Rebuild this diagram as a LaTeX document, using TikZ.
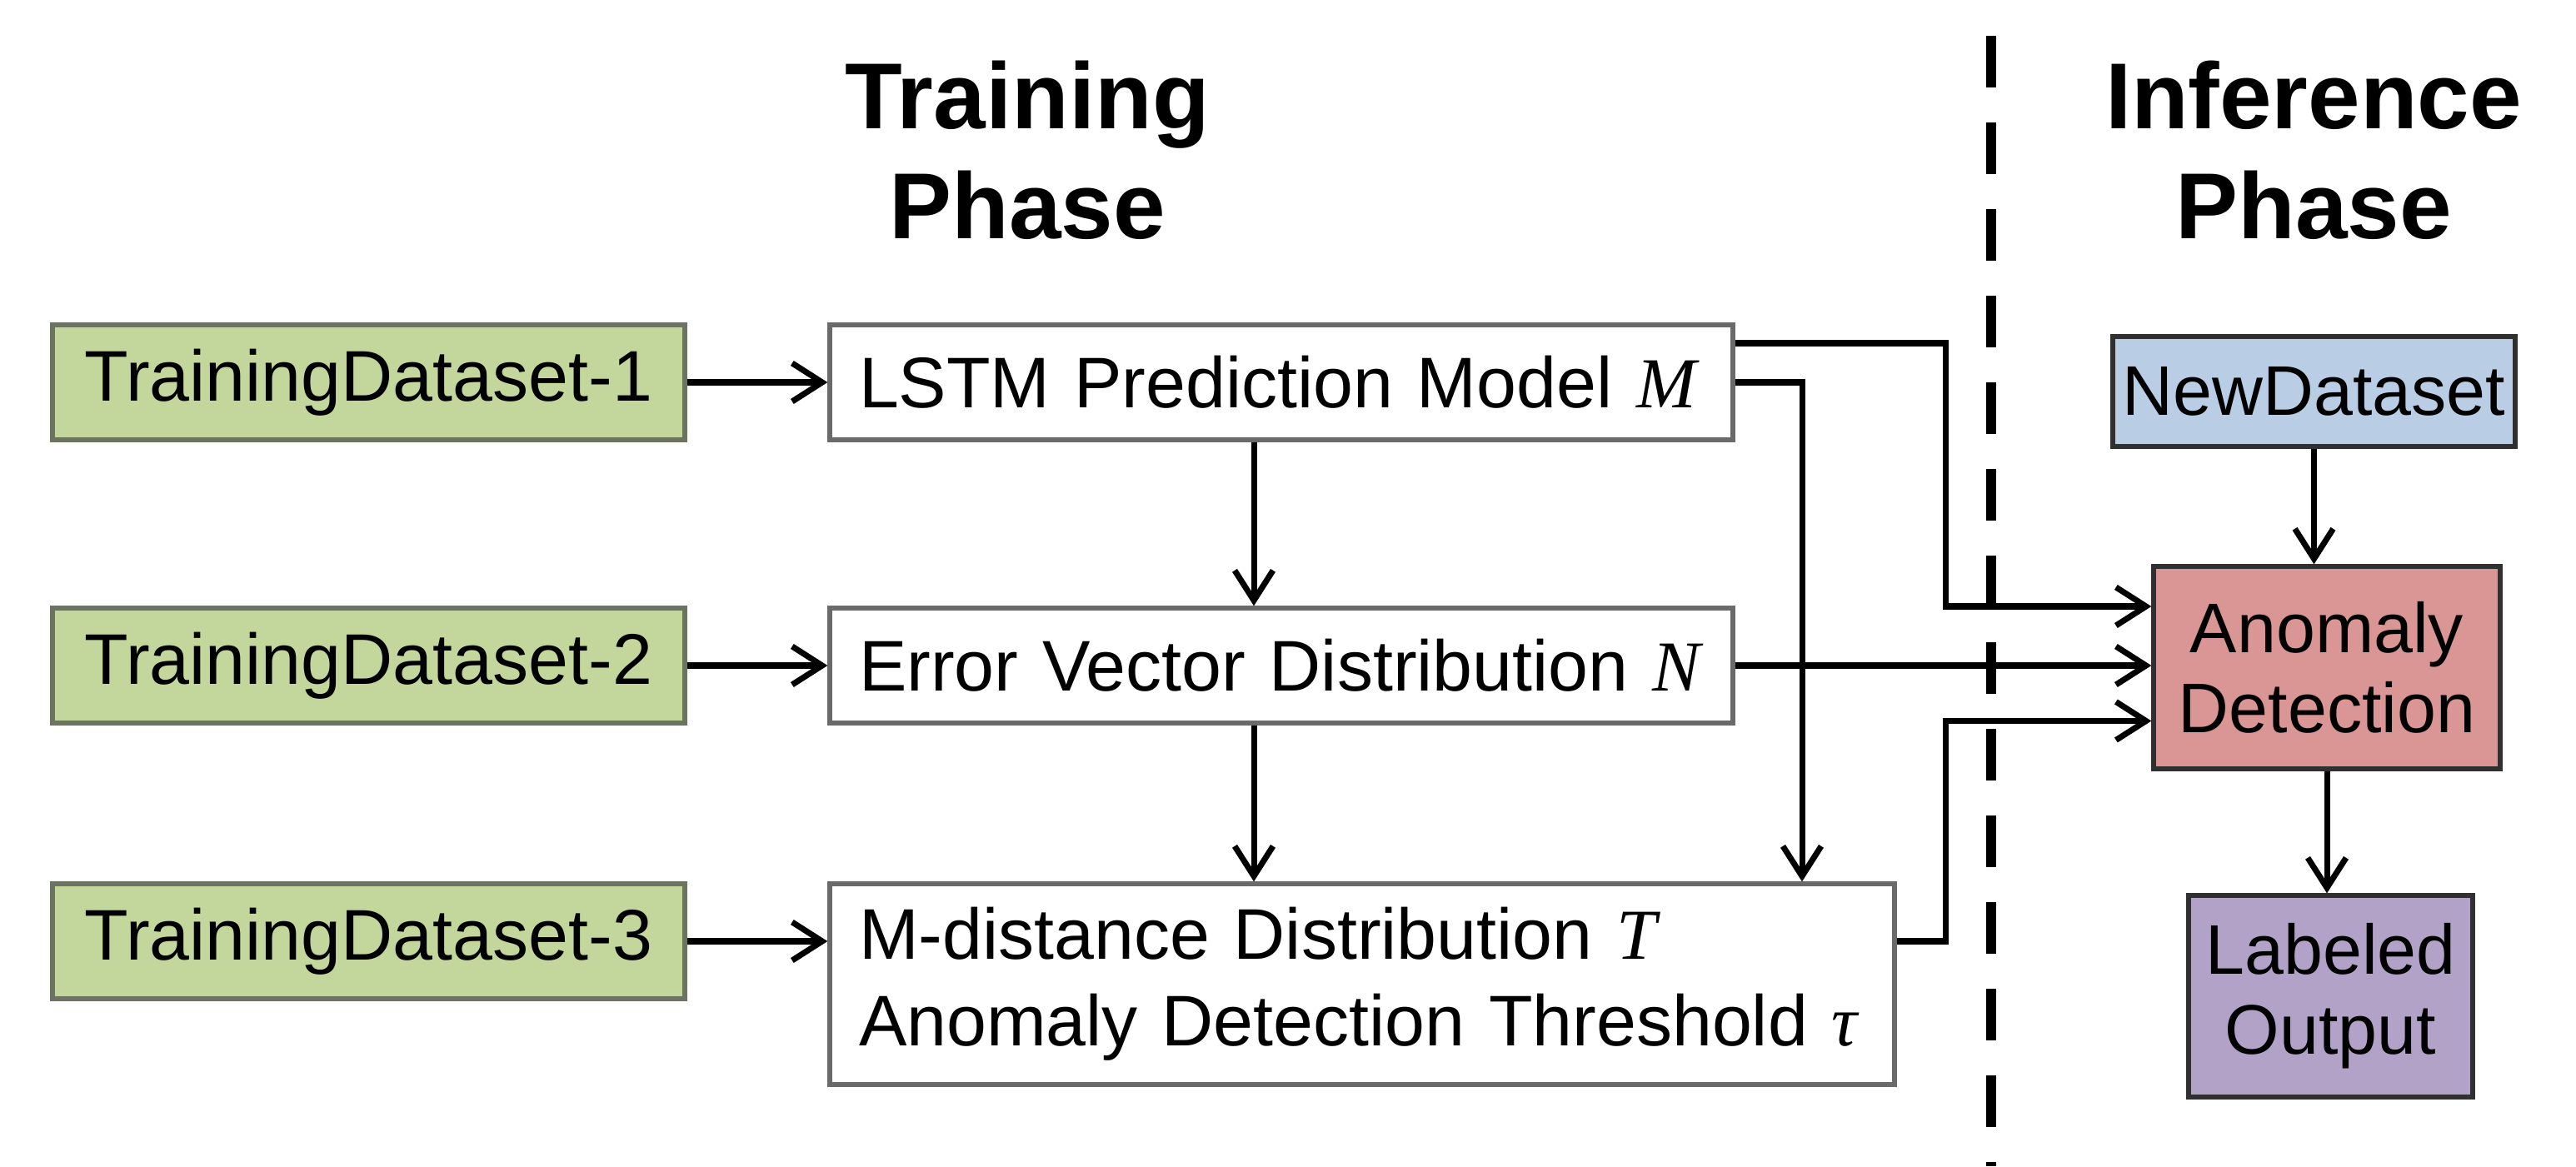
\documentclass[tikz,border=0pt]{standalone}
\usepackage{fontspec}
\setmainfont{Liberation Sans}
\newfontfamily\serifitfam{Liberation Serif}
\newcommand{\varitalic}[1]{{\serifitfam\itshape #1}}
\usetikzlibrary{arrows.meta,calc}
\definecolor{greenfill}{HTML}{C3D69B}
\definecolor{greenline}{HTML}{6C7360}
\definecolor{whiteline}{HTML}{6A6A6A}
\definecolor{bluefill}{HTML}{B9CDE5}
\definecolor{redfill}{HTML}{D99694}
\definecolor{purplefill}{HTML}{B3A2C7}
\definecolor{darkline}{HTML}{303030}
\tikzset{
  boxtext/.style={font=\fontsize{24.5}{29}\selectfont},
  greenbox/.style={boxtext, draw=greenline, fill=greenfill, line width=1.5pt,
    minimum width=7.59cm, minimum height=1.38cm, inner sep=0pt},
  whitebox/.style={boxtext, draw=whiteline, fill=white, line width=1.5pt,
    align=left, inner xsep=0.35cm, inner ysep=0pt},
  rightbox/.style={font=\fontsize{24}{27.3}\selectfont, draw=darkline, line width=1.5pt,
    align=center, inner sep=0pt},
  title/.style={font=\fontsize{32}{38}\selectfont\bfseries, anchor=base},
  arr/.style={line width=2pt, -{Straight Barb[length=0.36cm,width=0.46cm]}},
  divider/.style={line width=3.4pt, dash pattern=on 0.62cm off 0.42cm}
}
\begin{document}
\begin{tikzpicture}
\useasboundingbox (0,0) rectangle (30.92,14);
% titles
\node[title] (t1) at (12.33,12.45) {Training};
\node[title] (t2) at (12.33,11.13) {Phase};
\node[title] (i1) at (27.77,12.45) {Inference};
\node[title] (i2) at (27.77,11.13) {Phase};
% divider
\coordinate (dtop) at (23.90,13.57);
\coordinate (dbot) at (23.90,0);
\draw[divider] (dtop) -- (dbot);
% training datasets
\node[greenbox] (g1) at (4.425,9.41) {TrainingDataset-1};
\node[greenbox] (g2) at (4.425,6.01) {TrainingDataset-2};
\node[greenbox] (g3) at (4.425,2.70) {TrainingDataset-3};
% training blocks
\node[whitebox, text width=10.14cm, minimum height=1.38cm] (lstm) at (15.38,9.41)
  {LSTM Prediction Model \varitalic{M}};
\node[whitebox, text width=10.14cm, minimum height=1.38cm] (err) at (15.38,6.01)
  {Error Vector Distribution \varitalic{N}};
\node[whitebox, text width=12.08cm, minimum height=2.41cm,
  font=\fontsize{24.5}{29.5}\selectfont] (mdist) at (16.35,2.185)
  {\mbox{M-distance Distribution \varitalic{T}}\\\mbox{Anomaly Detection Threshold \varitalic{τ}}};
% inference blocks
\node[rightbox, fill=bluefill, minimum width=4.83cm, minimum height=1.32cm] (new) at (27.775,9.30) {NewDataset};
\node[rightbox, fill=redfill, minimum width=4.16cm, minimum height=2.43cm] (anom) at (27.93,5.985) {Anomaly\\Detection};
\node[rightbox, fill=purplefill, minimum width=3.41cm, minimum height=2.42cm] (lab) at (27.975,2.04) {Labeled\\Output};
% connectors
\draw[arr] (g1) -- (lstm);
\draw[arr] (g2) -- (err);
\draw[arr] (g3.east) -- (g3.east -| mdist.west);
\draw[arr] ([xshift=-0.33cm]lstm.south) -- ([xshift=-0.33cm]lstm.south |- err.north);
\draw[arr] ([xshift=-0.33cm]err.south) -- ([xshift=-0.33cm]err.south |- mdist.north);
\draw[arr] ([yshift=0.47cm]lstm.east) -- ++(2.53,0) |- ([yshift=0.735cm]anom.west);
\draw[arr] (lstm.east) -| ([xshift=5.28cm]mdist.north);
\draw[arr] (err.east) -- (err.east -| anom.west);
\draw[arr] ([yshift=0.515cm]mdist.east) -- ++(0.59,0) |- ([yshift=-0.64cm]anom.west);
\draw[arr] (new.south) -- (new.south |- anom.north);
\draw[arr] (anom.south) -- (anom.south |- lab.north);
\end{tikzpicture}
\end{document}
